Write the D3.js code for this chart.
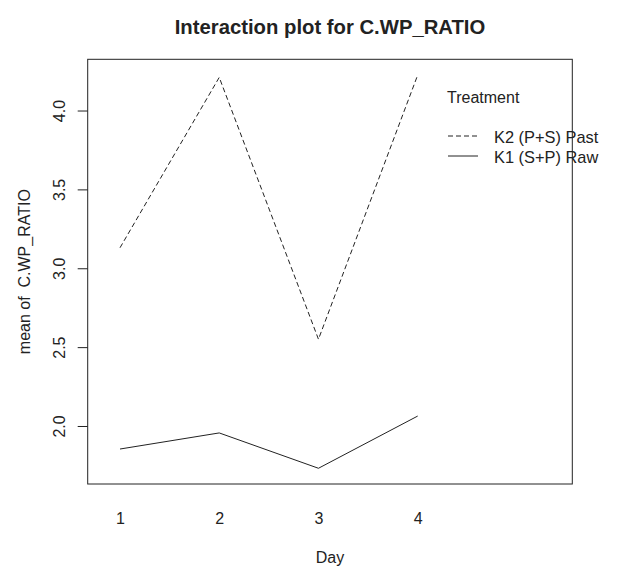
<!DOCTYPE html>
<html><head><meta charset="utf-8">
<script src="https://cdn.jsdelivr.net/npm/d3@7"></script>
<style>body{margin:0;background:#fff}svg{display:block}text{font-family:"Liberation Sans",Arial,sans-serif;fill:#222}</style>
</head><body>
<script>
const days = ["1","2","3","4"];
const seriesNames = ["K2 (P+S) Past","K1 (S+P) Raw"];
const k2Past = [3.13, 4.21, 2.55, 4.225];
const k1Raw = [1.854, 1.956, 1.732, 2.063];
const yTicks = [2.0, 2.5, 3.0, 3.5, 4.0];
const dashes = ["5,3", null];

const W = 622, H = 571;
const L = 87.7, R = 572.3, T = 59.3, B = 484;
const svg = d3.select("body").append("svg").attr("width", W).attr("height", H);

const x = d3.scaleLinear().domain([0.6745, 5.558]).range([L, R]);
const all = k2Past.concat(k1Raw);
const ext = d3.extent(all), pad = 0.04 * (ext[1] - ext[0]);
const y = d3.scaleLinear().domain([ext[0] - pad, ext[1] + pad]).range([B, T]);

// box
svg.append("rect").attr("x", L).attr("y", T).attr("width", R - L).attr("height", B - T)
  .attr("fill", "none").attr("stroke", "#222").attr("stroke-width", 1);

// y axis
const yAxis = d3.axisLeft(y).tickValues(yTicks).tickFormat(d3.format(".1f")).tickSize(10).tickPadding(0);
const ga = svg.append("g").attr("transform", `translate(${L},0)`).call(yAxis);
ga.select(".domain").remove();
ga.selectAll(".tick line").attr("stroke", "#222");
ga.selectAll(".tick text").attr("x", null).attr("dy", null)
  .attr("transform", "translate(-23,0) rotate(-90)")
  .attr("text-anchor", "middle").attr("font-size", 16).attr("fill", "#222")
  .style("font-family", '"Liberation Sans",Arial,sans-serif');

// x labels (no ticks)
const xAxis = d3.axisBottom(x).tickValues([1,2,3,4]).tickFormat((d,i) => days[i]).tickSize(0).tickPadding(0);
const gx = svg.append("g").attr("transform", `translate(0,${B})`).call(xAxis);
gx.select(".domain").remove();
gx.selectAll(".tick text").attr("y", 40).attr("dy", null).attr("font-size", 16).attr("fill", "#222")
  .style("font-family", '"Liberation Sans",Arial,sans-serif');

// lines
const line = d3.line().x((d, i) => x(i + 1)).y(d => y(d));
[k2Past, k1Raw].forEach((s, k) => {
  svg.append("path").datum(s).attr("d", line).attr("fill", "none")
    .attr("stroke", "#222").attr("stroke-width", 1)
    .attr("stroke-dasharray", dashes[k]);
});

// title & labels
svg.append("text").attr("x", (L + R) / 2).attr("y", 34).attr("text-anchor", "middle")
  .attr("font-size", 20.3).attr("font-weight", "bold").text("Interaction plot for C.WP_RATIO");
svg.append("text").attr("x", (L + R) / 2).attr("y", 563).attr("text-anchor", "middle")
  .attr("font-size", 16).text("Day");
svg.append("text").attr("transform", `translate(30,${(T + B) / 2}) rotate(-90)`)
  .attr("text-anchor", "middle").attr("font-size", 16).style("white-space", "pre")
  .text("mean of  C.WP_RATIO");

// legend
const lg = svg.append("g");
lg.append("text").attr("x", 447).attr("y", 103.3).attr("font-size", 16).text("Treatment");
seriesNames.forEach((n, k) => {
  const yy = 136 + k * 20;
  lg.append("line").attr("x1", 448).attr("x2", 478).attr("y1", yy).attr("y2", yy)
    .attr("stroke", "#222").attr("stroke-width", 1).attr("stroke-dasharray", dashes[k]);
  lg.append("text").attr("x", 494).attr("y", yy + 7.3).attr("font-size", 16.4).text(n);
});
</script>
</body></html>
